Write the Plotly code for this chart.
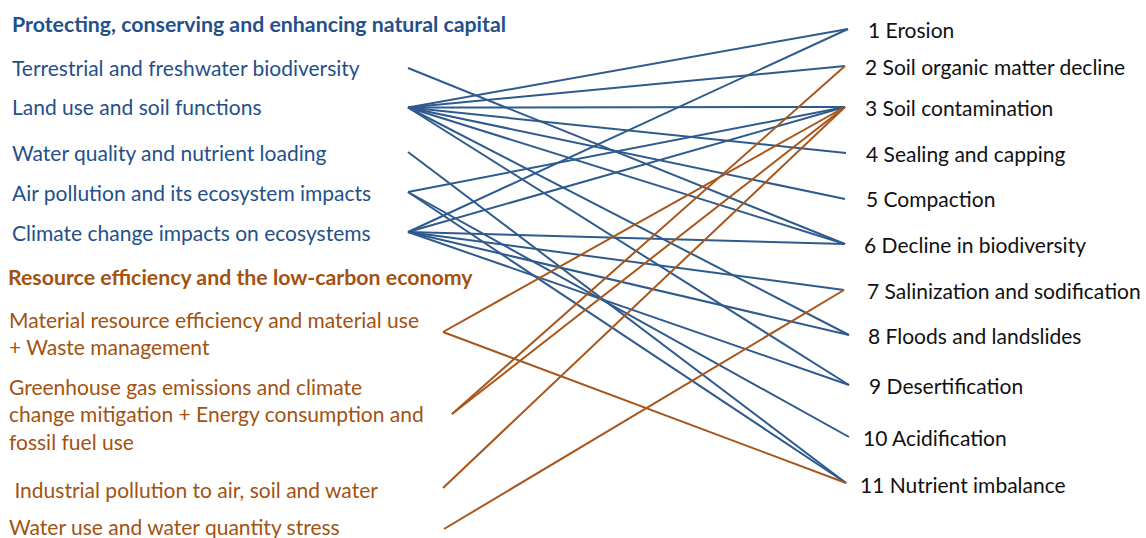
import plotly.graph_objects as go

# ---------------- data ----------------
theme_natural = "Protecting, conserving and enhancing natural capital"
theme_resource = "Resource efficiency and the low-carbon economy"

natural_topics = [
    "Terrestrial and freshwater biodiversity",
    "Land use and soil functions",
    "Water quality and nutrient loading",
    "Air pollution and its ecosystem impacts",
    "Climate change impacts on ecosystems",
]
resource_topics = [
    "Material resource efficiency and material use<br>+ Waste management",
    "Greenhouse gas emissions and climate<br>change mitigation + Energy consumption and<br>fossil fuel use",
    " Industrial pollution to air, soil and water",
    "Water use and water quantity stress",
]
threats = [
    "1 Erosion",
    "2 Soil organic matter decline",
    "3 Soil contamination",
    "4 Sealing and capping",
    "5 Compaction",
    "6 Decline in biodiversity",
    "7 Salinization and sodification",
    "8 Floods and landslides",
    "9 Desertification",
    "10 Acidification",
    "11 Nutrient imbalance",
]
# links: (topic index, threat number)
natural_links = [
    (0, 6),
    (1, 1), (1, 2), (1, 3), (1, 4), (1, 5), (1, 6), (1, 8), (1, 9),
    (2, 11),
    (3, 3), (3, 10), (3, 11),
    (4, 1), (4, 3), (4, 6), (4, 7), (4, 8), (4, 9),
]
resource_links = [
    (0, 3), (0, 11),
    (1, 2), (1, 3),
    (2, 3),
    (3, 7),
]

# ---------------- layout (positions / styles) ----------------
W, H = 1146, 538
BLUE_TXT = "#24508A"
BLUE_LINE = "#2F5A8E"
ORANGE_TXT = "#A3520F"
ORANGE_LINE = "#A9561A"
FONT = "Lato"
FS = 21
FSB = 21.3

nat_label_y = [67, 106, 152, 192, 232]
nat_anchor = [(408, 68), (408, 107.5), (408, 152), (408, 192), (408, 232)]
res_label = [(7, 333), (7, 414), (7, 489), (7, 526)]
res_anchor = [(443, 332), (452, 414), (443, 488), (444, 529)]
thr_label = [(866, 29), (863, 66), (863, 107), (864, 153), (864, 198), (862, 244),
             (865, 290), (866, 335), (867, 385), (861, 437), (858, 484)]
thr_anchor = [(848, 29), (845, 66), (845, 107), (846, 153), (845, 199), (845, 244),
              (844, 290), (849, 335), (849, 385), (849, 437), (846, 483)]

fig = go.Figure()


def add_links(links, anchors, color):
    xs, ys = [], []
    for ti, th in links:
        x0, y0 = anchors[ti]
        x1, y1 = thr_anchor[th - 1]
        xs += [x0, x1, None]
        ys += [y0, y1, None]
    fig.add_trace(go.Scatter(x=xs, y=ys, mode="lines",
                             line=dict(color=color, width=2),
                             hoverinfo="skip", showlegend=False))


add_links(natural_links, nat_anchor, BLUE_LINE)
add_links(resource_links, res_anchor, ORANGE_LINE)

ann = []


def txt(x, y, s, color, bold=False, size=FS):
    ann.append(dict(x=x, y=y, xref="x", yref="y", text=f"<b>{s}</b>" if bold else s,
                    showarrow=False, xanchor="left", yanchor="middle", align="left",
                    font=dict(family=FONT, size=size, color=color)))


txt(10, 24, theme_natural, BLUE_TXT, bold=True, size=FSB)
for s, y in zip(natural_topics, nat_label_y):
    txt(10, y, s, BLUE_TXT)
txt(6, 277, theme_resource, ORANGE_TXT, bold=True, size=FSB)
for s, (x, y) in zip(resource_topics, res_label):
    txt(x, y, s, ORANGE_TXT)
for s, (x, y) in zip(threats, thr_label):
    txt(x, y, s, "#111111")

fig.update_layout(
    width=W, height=H, autosize=False,
    margin=dict(l=0, r=0, t=0, b=0),
    paper_bgcolor="white", plot_bgcolor="white",
    xaxis=dict(range=[0, W], visible=False, fixedrange=True),
    yaxis=dict(range=[H, 0], visible=False, fixedrange=True),
    annotations=ann,
)
fig.write_html("out.html", config={"displayModeBar": False},
               post_script="document.body.style.margin='0';document.body.style.overflow='hidden';")
